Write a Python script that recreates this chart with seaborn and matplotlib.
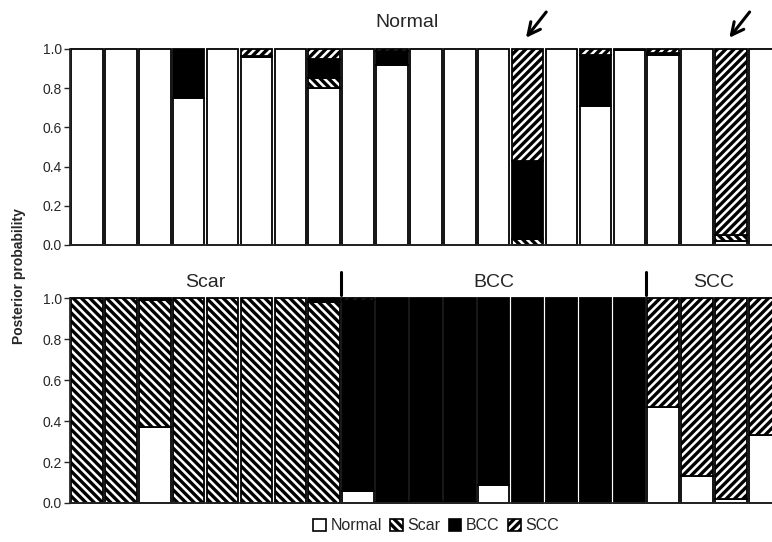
import numpy as np
import matplotlib
matplotlib.use("Agg")
import matplotlib.pyplot as plt
import matplotlib.patches as mpatches
import seaborn as sns

classes = ["Normal", "Scar", "BCC", "SCC"]
fills = ["white", "white", "black", "white"]
hatches = ["", "\\\\\\\\", "", "////"]

# top panel: normal tissue samples
top_normal = [1, 1, 1, 0.75, 1, 0.96, 1, 0.80, 1, 0.92, 1, 1, 1, 0.00, 1, 0.71, 0.995, 0.97, 1, 0.02, 1]
top_scar   = [0, 0, 0, 0.00, 0, 0.00, 0, 0.05, 0, 0.00, 0, 0, 0, 0.03, 0, 0.00, 0.000, 0.00, 0, 0.03, 0]
top_bcc    = [0, 0, 0, 0.25, 0, 0.005, 0, 0.10, 0, 0.07, 0, 0, 0, 0.40, 0, 0.26, 0.005, 0.01, 0, 0.00, 0]
top_scc    = [0, 0, 0, 0.00, 0, 0.035, 0, 0.05, 0, 0.01, 0, 0, 0, 0.57, 0, 0.03, 0.000, 0.02, 0, 0.95, 0]

# bottom panel: 8 scar, 9 BCC, 4 SCC samples
bot_normal = [0, 0, 0.37, 0, 0, 0, 0, 0.00, 0.06, 0.005, 0.01, 0.005, 0.09, 0, 0.01, 0, 0, 0.47, 0.13, 0.02, 0.33]
bot_scar   = [1, 1, 0.62, 1, 1, 1, 1, 0.98, 0.00, 0.000, 0.00, 0.000, 0.00, 0, 0.00, 0, 0, 0.00, 0.00, 0.00, 0.00]
bot_bcc    = [0, 0, 0.01, 0, 0, 0, 0, 0.02, 0.93, 0.995, 0.99, 0.995, 0.91, 1, 0.99, 1, 1, 0.00, 0.00, 0.00, 0.00]
bot_scc    = [0, 0, 0.00, 0, 0, 0, 0, 0.00, 0.01, 0.000, 0.00, 0.000, 0.00, 0, 0.00, 0, 0, 0.53, 0.87, 0.98, 0.67]

groups = ["Scar", "BCC", "SCC"]
group_sizes = [8, 9, 4]
arrow_bars = [13, 19]

sns.set_style("white")
plt.rcParams["font.family"] = ["Liberation Sans", "DejaVu Sans"]
plt.rcParams["hatch.linewidth"] = 2.4

fig = plt.figure(figsize=(7.72, 5.42), dpi=100)
ax_top = fig.add_axes([0.0907, 0.548, 0.9093, 0.3616])
ax_bot = fig.add_axes([0.0907, 0.072, 0.9093, 0.378])


def stacked(ax, layers):
    pos = list(range(len(layers[0])))
    bottom = np.zeros(len(pos))
    for vals, fc, h in zip(layers, fills, hatches):
        sns.barplot(x=pos, y=vals, bottom=bottom, color=fc, hatch=h,
                    edgecolor="black", linewidth=1.3, width=0.93,
                    clip_on=False, ax=ax)
        bottom = bottom + np.array(vals)
    for p in ax.patches:
        if p.get_height() <= 0:
            p.set_visible(False)
    ax.set_ylim(0, 1)
    ax.set_xlim(-0.5, 20.21)
    ax.set_xticks([])
    ax.set_yticks(np.arange(0, 1.01, 0.2))
    ax.set_yticklabels([f"{t:.1f}" for t in np.arange(0, 1.01, 0.2)], fontsize=10)
    ax.tick_params(axis="y", direction="out", length=4, width=1, left=True, pad=2)
    sns.despine(ax=ax, top=True, right=True)
    ax.spines["left"].set_linewidth(1.3)
    ax.spines["bottom"].set_linewidth(1.3)
    ax.set_xlabel("")
    ax.set_ylabel("")


stacked(ax_top, [top_normal, top_scar, top_bcc, top_scc])
stacked(ax_bot, [bot_normal, bot_scar, bot_bcc, bot_scc])

ax_top.text(9.45, 1.135, "Normal", ha="center", va="center", fontsize=14,
            transform=ax_top.transData)
for b in arrow_bars:
    ax_top.annotate("", xy=(b - 0.1, 1.046), xytext=(b + 0.6, 1.2),
                    arrowprops=dict(arrowstyle="->", lw=2.2, color="black",
                                    mutation_scale=22),
                    annotation_clip=False)

start = 0
for name, n in zip(groups, group_sizes):
    center = start + (n - 1) / 2
    ax_bot.text(center, 1.075, name, ha="center", va="center", fontsize=14,
                transform=ax_bot.get_xaxis_transform())
    if start > 0:
        ax_bot.plot([start - 0.5, start - 0.5], [1.015, 1.125], color="black",
                    lw=2.2, transform=ax_bot.get_xaxis_transform(), clip_on=False)
    start += n

fig.text(0.024, 0.49, "Posterior probability", rotation=90, ha="center",
         va="center", fontsize=10, fontweight="bold")

handles = [mpatches.Patch(facecolor=fc, edgecolor="black", hatch=h, linewidth=1.2)
           for fc, h in zip(fills, hatches)]
fig.legend(handles, classes, loc="center", bbox_to_anchor=(0.565, 0.03), ncol=4,
           frameon=False, fontsize=11.5, handlelength=0.8, handleheight=0.8,
           handletextpad=0.3, columnspacing=0.5, borderpad=0)

fig.savefig("out.png", dpi=100)
